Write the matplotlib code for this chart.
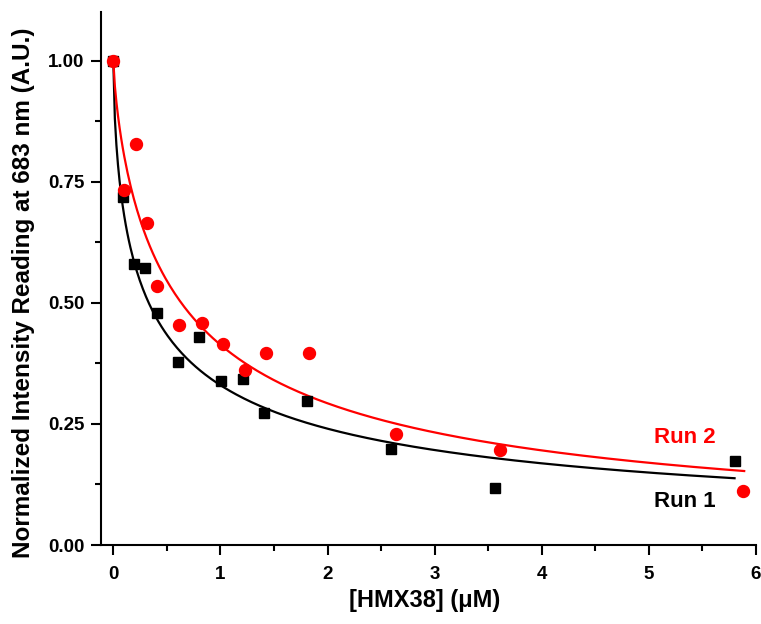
import numpy as np
import matplotlib.pyplot as plt
from matplotlib.ticker import MultipleLocator

# Run 1 (black squares)
run1_x = [0.0, 0.09, 0.19, 0.30, 0.41, 0.60, 0.80, 1.01, 1.21, 1.41, 1.81, 2.59, 3.56, 5.80]
run1_y = [1.00, 0.719, 0.580, 0.572, 0.479, 0.378, 0.430, 0.339, 0.343, 0.273, 0.298, 0.198, 0.118, 0.174]

# Run 2 (red circles)
run2_x = [0.0, 0.10, 0.21, 0.31, 0.41, 0.61, 0.83, 1.02, 1.23, 1.43, 1.83, 2.64, 3.61, 5.88]
run2_y = [1.00, 0.733, 0.828, 0.665, 0.535, 0.455, 0.459, 0.415, 0.362, 0.397, 0.397, 0.229, 0.196, 0.112]

# fitted decay curves y = 1 / (1 + (x/K)^n), parameters
fit1_K, fit1_n = 0.331, 0.64
fit2_K, fit2_n = 0.635, 0.769

plt.rcParams['font.family'] = ['Liberation Sans', 'DejaVu Sans']
plt.rcParams['font.weight'] = 'bold'

fig = plt.figure(figsize=(7.61, 6.24), dpi=100)
ax = fig.add_axes([0.1327, 0.1266, 0.8607, 0.8542])

def hill(x, K, n):
    return 1.0 / (1.0 + (x / K) ** n)

xf1 = np.linspace(0, max(run1_x), 400)
xf2 = np.linspace(0, max(run2_x) + 0.01, 400)
ax.plot(xf1, hill(xf1, fit1_K, fit1_n), color='black', lw=1.6, zorder=2)
ax.plot(xf2, hill(xf2, fit2_K, fit2_n), color='red', lw=1.6, zorder=2)

ax.plot(run1_x, run1_y, 's', color='black', ms=7.8, zorder=3)
ax.plot(run2_x, run2_y, 'o', color='red', ms=8.6, zorder=4)

ax.text(5.05, 0.223, 'Run 2', color='red', fontsize=16, fontweight='bold', va='center')
ax.text(5.05, 0.089, 'Run 1', color='black', fontsize=16, fontweight='bold', va='center')

ax.set_xlim(-0.115, 6.0)
ax.set_ylim(0, 1.101)
ax.xaxis.set_major_locator(MultipleLocator(1))
ax.xaxis.set_minor_locator(MultipleLocator(0.5))
ax.yaxis.set_major_locator(MultipleLocator(0.25))
ax.yaxis.set_minor_locator(MultipleLocator(0.125))
ax.yaxis.set_major_formatter(plt.FormatStrFormatter('%.2f'))

for side in ['top', 'right']:
    ax.spines[side].set_visible(False)
for side in ['left', 'bottom']:
    ax.spines[side].set_linewidth(1.5)

ax.tick_params(which='major', direction='out', length=7, width=1.5, labelsize=13.5)
ax.tick_params(axis='x', which='major', pad=8)
ax.tick_params(axis='y', which='major', pad=5)
ax.tick_params(which='minor', direction='out', length=4.3, width=1.5)
for lab in ax.get_xticklabels() + ax.get_yticklabels():
    lab.set_fontweight('bold')

fig.text(424.5 / 761, 1 - 600 / 624, '[HMX38] (μM)', fontsize=17, fontweight='bold',
         ha='center', va='center')
fig.text(24 / 761, 1 - 293 / 624, 'Normalized Intensity Reading at 683 nm (A.U.)', fontsize=17.5,
         fontweight='bold', rotation=90, ha='center', va='center')

fig.savefig('out.png', dpi=100)
